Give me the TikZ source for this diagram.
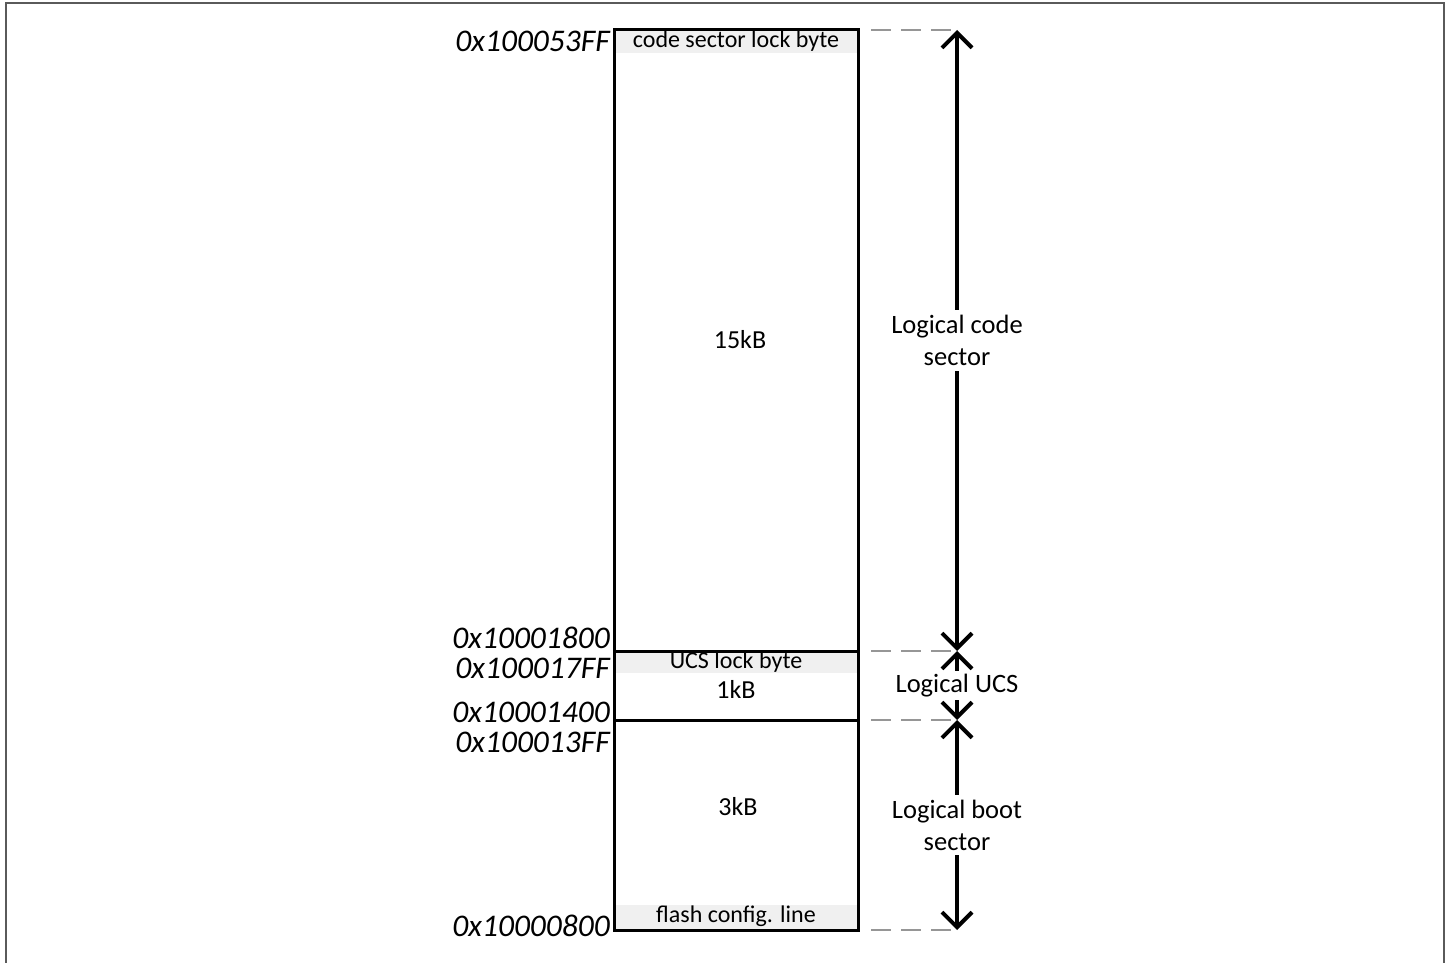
\documentclass[tikz,border=0pt]{standalone}
\usepackage{fontspec}
\setmainfont{Carlito}
\usetikzlibrary{arrows.meta}
\definecolor{bandgray}{RGB}{240,240,240}
\definecolor{guidegray}{RGB}{150,150,150}
\definecolor{framegray}{RGB}{90,90,90}
\tikzset{
	addr/.style={anchor=east, inner sep=0pt, font=\fontsize{31.5}{33}\selectfont\itshape},
	lbl/.style={inner sep=0pt, font=\fontsize{24}{26}\selectfont},
	size/.style={inner sep=0pt, font=\fontsize{26}{28}\selectfont},
	logic/.style={fill=white, align=center, inner sep=5pt, font=\fontsize{26.5}{32}\selectfont},
	guide/.style={draw=guidegray, line width=2pt, dash pattern=on 20pt off 10pt},
	span/.style={line width=4pt, {Straight Barb[length=15pt,width=30pt]}-{Straight Barb[length=15pt,width=30pt]}}
}
\begin{document}
\begin{tikzpicture}[x=1pt, y=-1pt]
					\useasboundingbox (0,0) rectangle (1451,963);
					\draw[draw=framegray, line width=2pt] (6,963) -- (6,3) -- (1444,3) -- (1444,963);

					\fill[bandgray] (614,30) rectangle (858,53);
					\fill[bandgray] (614,651) rectangle (858,673);
					\fill[bandgray] (614,905) rectangle (858,930);

					\coordinate (ml) at (614,651);
					\coordinate (mr) at (858,651);
					\coordinate (ll) at (614,720);
					\coordinate (lr) at (858,720);
					\draw[line width=3pt] (614,30) rectangle (858,930);
					\draw[line width=3pt] (ml) -- (mr);
					\draw[line width=3pt] (ll) -- (lr);

					\node[lbl] at (736,41) (cslock) {code sector lock byte};
					\node[size] at (740,340) (cssize) {15kB};
					\node[lbl] at (736,662) (ucslock) {UCS lock byte};
					\node[size] at (736,689) (ucssize) {1kB};
					\node[size] at (738,807) (bootsize) {3kB};
					\node[lbl] at (736,916) (flashcfg) {flash config. line};

					\node[addr] at (610,41) (a53ff) {0x100053FF};
					\node[addr] at (610,638) (a1800) {0x10001800};
					\node[addr] at (610,668) (a17ff) {0x100017FF};
					\node[addr] at (610,712) (a1400) {0x10001400};
					\node[addr] at (610,742) (a13ff) {0x100013FF};
					\node[addr] at (610,926) (a0800) {0x10000800};

					\coordinate (g0) at (871,30);
					\coordinate (g1) at (871,651);
					\coordinate (g2) at (871,720);
					\coordinate (g3) at (871,930);
					\coordinate (cstop) at (957,30);
					\coordinate (ucstop) at (957,651);
					\coordinate (boottop) at (957,720);
					\coordinate (bootbot) at (957,930);

					\draw[guide] (g0) -- (cstop);
					\draw[guide] (g1) -- (ucstop);
					\draw[guide] (g2) -- (boottop);
					\draw[guide] (g3) -- (bootbot);

					\draw[span] (cstop) -- node[logic] (cslogic) {Logical code\\sector} (ucstop);
					\draw[span] (ucstop) -- node[logic, inner sep=3pt] (ucslogic) {Logical UCS} (boottop);
					\draw[span] (boottop) -- node[logic] (bootlogic) {Logical boot\\sector} (bootbot);
				\end{tikzpicture}
\end{document}
